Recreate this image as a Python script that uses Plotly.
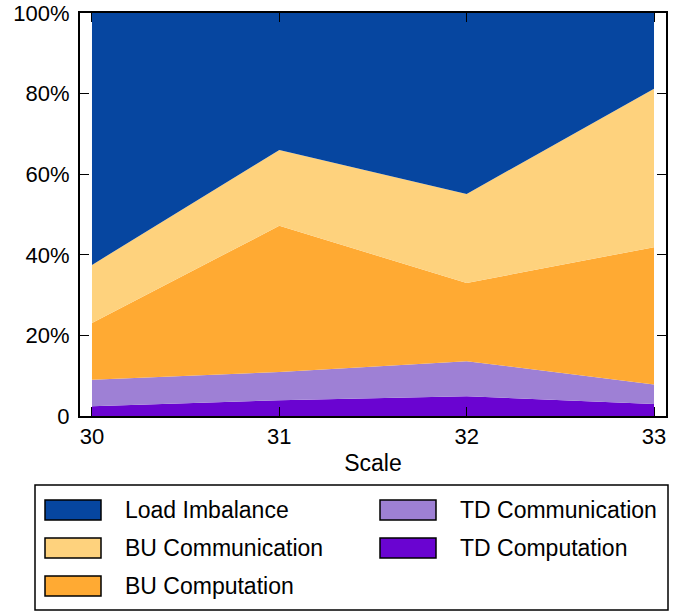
import plotly.graph_objects as go

scale = [30, 31, 32, 33]
td_computation = [2.4, 3.9, 4.9, 3.0]
td_communication = [6.6, 7.0, 8.7, 4.8]
bu_computation = [14.1, 36.3, 19.4, 34.1]
bu_communication = [14.4, 18.8, 22.1, 39.3]
load_imbalance = [62.5, 34.0, 44.9, 18.8]

y_tickvals = [0, 20, 40, 60, 80, 100]
y_ticktext = ["0", "20%", "40%", "60%", "80%", "100%"]

series = [
    ("TD Computation", td_computation, "#6A04D1"),
    ("TD Communication", td_communication, "#9E80D5"),
    ("BU Computation", bu_computation, "#FFAA33"),
    ("BU Communication", bu_communication, "#FED27D"),
    ("Load Imbalance", load_imbalance, "#0646A0"),
]

fig = go.Figure()
for name, vals, col in series:
    fig.add_trace(go.Scatter(
        x=scale, y=vals, name=name, mode="lines", stackgroup="one",
        line=dict(width=0, color=col), fillcolor=col, showlegend=False,
        hoverinfo="skip",
    ))

font = "Liberation Sans, Arial, sans-serif"
FS = 22
LFS = 23
L, T = 80, 13
W, H = 688, 612
pw, ph = 586, 403
R = W - L - pw
B = H - T - ph

fig.update_layout(
    width=W, height=H,
    margin=dict(l=L, r=R, t=T, b=B, autoexpand=False),
    plot_bgcolor="white", paper_bgcolor="white",
    font=dict(family=font, size=FS, color="black"),
    showlegend=False,
)
fig.update_xaxes(
    range=[29.936, 33.064], tickvals=scale, ticktext=[str(s) for s in scale],
    ticks="inside", ticklen=9, tickwidth=1, tickcolor="black",
    showline=True, linecolor="black", linewidth=2, mirror="ticks",
    showgrid=False, zeroline=False, automargin=False,
    title=dict(text="Scale", font=dict(size=LFS), standoff=6),
    tickfont=dict(size=FS), ticklabeloverflow="allow",
)
fig.update_yaxes(
    range=[0, 100], tickvals=y_tickvals, ticktext=y_ticktext,
    ticks="inside", ticklen=9, tickwidth=1, tickcolor="black",
    showline=True, linecolor="black", linewidth=2, mirror="ticks",
    showgrid=False, zeroline=False, tickfont=dict(size=FS), automargin=False,
    ticklabelstandoff=4, ticklabeloverflow="allow",
)

# Custom legend box (coordinates in screen px)
shapes = []
annotations = []

def px_to_paper(x, y):
    return (x - L) / pw, (H - B - y) / ph

x0, y0 = px_to_paper(35, 485)
x1, y1 = px_to_paper(668, 610)
shapes.append(dict(type="rect", xref="paper", yref="paper", x0=x0, y0=y0, x1=x1, y1=y1,
                   line=dict(color="black", width=1.5), fillcolor="white"))

legend_items = [
    ("Load Imbalance", "#0646A0", 45, 510),
    ("BU Communication", "#FED27D", 45, 548),
    ("BU Computation", "#FFAA33", 45, 586),
    ("TD Communication", "#9E80D5", 380, 510),
    ("TD Computation", "#6A04D1", 380, 548),
]
for name, col, lx, ly in legend_items:
    a0, b0 = px_to_paper(lx, ly - 10)
    a1, b1 = px_to_paper(lx + 56, ly + 10)
    shapes.append(dict(type="rect", xref="paper", yref="paper", x0=a0, y0=b0, x1=a1, y1=b1,
                       line=dict(color="black", width=1.5), fillcolor=col))
    tx, ty = px_to_paper(lx + 78, ly)
    annotations.append(dict(xref="paper", yref="paper", x=tx, y=ty, text=name,
                            showarrow=False, xanchor="left", yanchor="middle",
                            font=dict(size=LFS, family=font, color="black")))

fig.update_layout(shapes=shapes, annotations=annotations)
fig.write_html("out.html",
               config={"displayModeBar": False, "staticPlot": True},
               post_script="document.body.style.margin='0';document.body.style.overflow='hidden';")
